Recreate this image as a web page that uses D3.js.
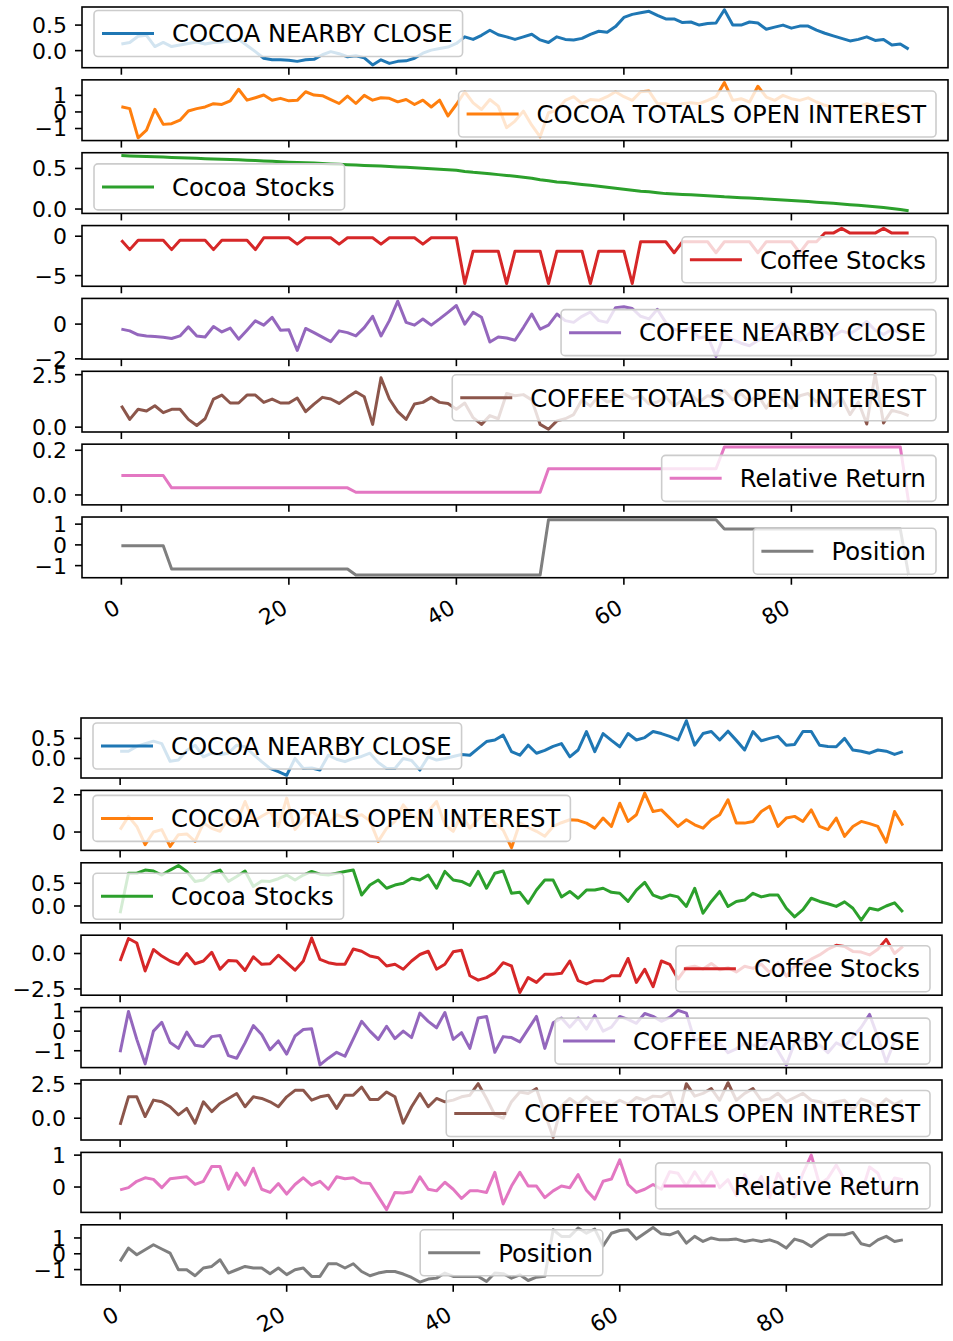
<!DOCTYPE html>
<html>
<head>
<meta charset="utf-8">
<script src="https://cdn.jsdelivr.net/npm/d3@7"></script>
<style>
  body { margin: 0; background: #fff; }
  svg { display: block; }
  text { font-family: "DejaVu Sans", sans-serif; fill: #000; }
</style>
</head>
<body>
<svg id="chart" width="953" height="1341"></svg>
<script>
// ---- series names, colours and tick labels ----
const seriesNames = ["COCOA NEARBY CLOSE", "COCOA TOTALS OPEN INTEREST", "Cocoa Stocks", "Coffee Stocks",
  "COFFEE NEARBY CLOSE", "COFFEE TOTALS OPEN INTEREST", "Relative Return", "Position"];
const seriesColors = ["#1f77b4", "#ff7f0e", "#2ca02c", "#d62728", "#9467bd", "#8c564b", "#e377c2", "#7f7f7f"];
const xTickValues = [0, 20, 40, 60, 80];
const xTickLabels = ["0", "20", "40", "60", "80"];

// ---- upper figure ----
const topCocoaClose = [0.13,0.16,0.28,0.30,0.08,0.16,0.08,0.11,0.14,0.17,
  0.13,0.16,0.17,0.19,0.22,0.10,-0.02,-0.15,-0.18,-0.18,
  -0.19,-0.21,-0.18,-0.17,-0.08,-0.02,-0.06,-0.12,-0.10,-0.14,
  -0.28,-0.18,-0.25,-0.21,-0.20,-0.15,-0.05,0.01,0.04,0.07,
  0.14,0.27,0.22,0.30,0.40,0.31,0.27,0.22,0.27,0.32,
  0.21,0.16,0.27,0.22,0.21,0.24,0.32,0.38,0.36,0.47,
  0.65,0.71,0.74,0.77,0.69,0.62,0.62,0.55,0.56,0.50,
  0.53,0.54,0.80,0.50,0.50,0.56,0.54,0.42,0.46,0.50,
  0.44,0.48,0.48,0.40,0.34,0.29,0.24,0.19,0.22,0.27,
  0.20,0.22,0.11,0.13,0.03];
const topCocoaOpenInterest = [0.31,0.20,-1.56,-1.10,0.16,-0.75,-0.71,-0.50,0.06,0.20,
  0.30,0.50,0.45,0.67,1.37,0.71,0.86,1.02,0.71,0.82,
  0.67,0.70,1.22,1.02,0.98,0.75,0.51,0.96,0.51,1.00,
  0.71,0.86,0.82,0.61,0.75,0.45,0.71,0.30,0.71,-0.24,
  0.45,1.22,0.55,0.15,0.75,0.35,-0.95,-0.55,0.05,-0.80,
  -1.50,-0.05,0.10,0.70,0.92,0.50,0.75,0.70,0.92,1.22,
  0.92,0.70,1.22,1.26,0.50,0.50,0.30,0.50,0.55,0.50,
  0.70,0.92,1.77,0.70,0.80,0.60,1.55,0.90,0.70,1.00,
  0.80,0.70,0.85,0.60,0.40,0.30,0.30,0.35,0.30,0.50,
  0.30,0.50,0.20,0.40,0.30];
const topCocoaStocks = [0.660,0.655,0.652,0.648,0.645,0.641,0.636,0.633,0.630,0.626,
  0.621,0.617,0.614,0.611,0.606,0.601,0.597,0.593,0.589,0.582,
  0.577,0.574,0.570,0.566,0.561,0.556,0.552,0.547,0.543,0.538,
  0.533,0.529,0.524,0.519,0.514,0.509,0.504,0.497,0.491,0.484,
  0.478,0.462,0.452,0.445,0.436,0.424,0.414,0.403,0.392,0.380,
  0.362,0.348,0.334,0.326,0.316,0.303,0.292,0.282,0.268,0.256,
  0.243,0.232,0.220,0.212,0.200,0.190,0.185,0.180,0.175,0.169,
  0.164,0.158,0.150,0.145,0.140,0.135,0.130,0.124,0.118,0.112,
  0.105,0.099,0.092,0.085,0.078,0.070,0.062,0.054,0.046,0.038,
  0.028,0.018,0.008,-0.005,-0.020];
const topCoffeeStocks = [-0.5,-1.7,-0.5,-0.5,-0.5,-0.5,-1.7,-0.5,-0.5,-0.5,
  -0.5,-1.7,-0.5,-0.5,-0.5,-0.5,-1.7,-0.2,-0.2,-0.2,
  -0.2,-1.0,-0.2,-0.2,-0.2,-0.2,-1.0,-0.2,-0.2,-0.2,
  -0.2,-1.0,-0.2,-0.2,-0.2,-0.2,-1.0,-0.2,-0.2,-0.2,
  -0.2,-6.0,-1.9,-1.9,-1.9,-1.9,-6.0,-1.9,-1.9,-1.9,
  -1.9,-6.0,-1.9,-1.9,-1.9,-1.9,-6.0,-1.9,-1.9,-1.9,
  -1.9,-6.0,-0.7,-0.7,-0.7,-0.7,-2.1,-0.7,-0.7,-0.7,
  -0.7,-2.1,-0.7,-0.7,-0.7,-0.7,-2.1,-0.7,-0.7,-0.7,
  -0.7,-2.1,-0.7,-0.7,0.4,0.4,1.0,0.4,0.4,0.4,
  0.4,1.0,0.4,0.4,0.4];
const topCoffeeClose = [-0.29,-0.39,-0.62,-0.68,-0.72,-0.76,-0.83,-0.68,-0.16,-0.68,
  -0.74,-0.14,-0.45,-0.23,-0.87,-0.35,0.19,-0.06,0.39,-0.35,
  -0.33,-1.52,-0.25,-0.49,-0.75,-1.01,-0.39,-0.49,-0.68,-0.20,
  0.45,-0.68,0.20,1.32,0.10,-0.06,0.29,-0.06,0.30,0.68,
  1.07,0.00,0.68,0.39,-1.03,-0.74,-0.80,-0.93,-0.20,0.58,
  -0.29,-0.06,0.58,0.20,0.10,0.45,0.70,0.20,0.10,0.95,
  1.00,0.90,0.45,0.30,0.85,0.10,-0.30,-0.40,-0.20,-0.80,
  -0.70,-1.86,-0.60,-0.90,-1.10,-1.25,-0.95,-0.70,-0.30,0.10,
  -0.50,-0.95,-0.60,-0.20,-0.45,-0.70,-0.40,-0.55,-0.25,0.15,
  -0.35,-0.60,-0.30,-0.50,-0.45];
const topCoffeeOpenInterest = [1.02,0.37,0.85,0.77,1.02,0.69,0.85,0.85,0.37,0.08,
  0.40,1.34,1.53,1.15,1.15,1.53,1.53,1.18,1.34,1.15,
  1.15,1.39,0.74,1.10,1.42,1.34,1.13,1.42,1.69,1.45,
  0.13,2.35,1.34,0.74,0.37,1.10,1.18,1.42,1.18,1.13,
  0.85,1.15,0.45,0.13,0.55,0.40,1.60,1.50,1.55,1.30,
  0.13,-0.10,0.30,0.40,0.60,1.30,1.00,1.50,1.20,1.30,
  1.60,1.35,1.50,1.10,1.20,1.45,1.00,1.30,1.55,1.20,
  1.50,1.40,1.75,1.30,1.60,1.20,1.55,0.90,1.60,1.30,
  0.90,1.50,1.60,1.20,1.55,1.00,1.40,0.60,1.20,0.15,
  2.53,0.20,0.80,0.70,0.55];
const topRelativeReturn = [0.087,0.087,0.087,0.087,0.087,0.087,0.032,0.032,0.032,0.032,
  0.032,0.032,0.032,0.032,0.032,0.032,0.032,0.032,0.032,0.032,
  0.032,0.032,0.032,0.032,0.032,0.032,0.032,0.032,0.012,0.012,
  0.012,0.012,0.012,0.012,0.012,0.012,0.012,0.012,0.012,0.012,
  0.012,0.012,0.012,0.012,0.012,0.012,0.012,0.012,0.012,0.012,
  0.012,0.117,0.117,0.117,0.117,0.117,0.117,0.117,0.117,0.117,
  0.117,0.117,0.117,0.117,0.117,0.117,0.117,0.117,0.117,0.117,
  0.117,0.117,0.215,0.215,0.215,0.215,0.215,0.215,0.215,0.215,
  0.215,0.215,0.215,0.215,0.215,0.215,0.215,0.215,0.215,0.215,
  0.215,0.215,0.215,0.215,-0.032];
const topPosition = [-0.04,-0.04,-0.04,-0.04,-0.04,-0.04,-1.16,-1.16,-1.16,-1.16,
  -1.16,-1.16,-1.16,-1.16,-1.16,-1.16,-1.16,-1.16,-1.16,-1.16,
  -1.16,-1.16,-1.16,-1.16,-1.16,-1.16,-1.16,-1.16,-1.45,-1.45,
  -1.45,-1.45,-1.45,-1.45,-1.45,-1.45,-1.45,-1.45,-1.45,-1.45,
  -1.45,-1.45,-1.45,-1.45,-1.45,-1.45,-1.45,-1.45,-1.45,-1.45,
  -1.45,1.21,1.21,1.21,1.21,1.21,1.21,1.21,1.21,1.21,
  1.21,1.21,1.21,1.21,1.21,1.21,1.21,1.21,1.21,1.21,
  1.21,1.21,0.77,0.77,0.77,0.77,0.77,0.77,0.77,0.77,
  0.77,0.77,0.77,0.77,0.77,0.77,0.77,0.77,0.77,0.77,
  0.77,0.77,0.77,0.77,-1.45];

// ---- lower figure ----
const bottomCocoaClose = [0.18,0.18,0.30,0.37,0.43,0.37,-0.07,-0.04,0.20,0.33,
  0.04,0.13,0.10,0.13,0.33,0.29,0.10,-0.08,-0.25,-0.33,
  -0.42,0.00,-0.25,-0.24,-0.29,0.08,-0.02,-0.08,0.00,0.05,
  0.13,-0.10,-0.25,-0.25,0.00,-0.05,-0.29,0.04,-0.04,0.00,
  0.05,0.10,0.08,0.25,0.42,0.46,0.58,0.17,0.08,0.33,
  0.13,0.20,0.30,0.37,0.04,0.21,0.67,0.17,0.62,0.45,
  0.29,0.62,0.46,0.52,0.67,0.62,0.55,0.46,0.94,0.33,
  0.62,0.67,0.46,0.68,0.45,0.21,0.67,0.44,0.50,0.55,
  0.33,0.35,0.67,0.67,0.33,0.30,0.29,0.50,0.21,0.18,
  0.13,0.21,0.18,0.10,0.17];
const bottomCocoaOpenInterest = [0.13,0.84,0.30,-0.68,0.00,0.13,-0.77,-0.14,-0.10,-0.50,
  0.48,0.20,0.04,0.75,0.50,1.64,0.57,0.85,1.10,0.30,
  1.82,0.13,0.66,1.10,0.80,0.39,0.93,0.75,0.80,0.93,
  0.60,-0.50,0.20,0.57,1.46,0.90,0.66,1.10,1.64,0.39,
  0.04,0.93,0.21,0.70,1.10,0.48,0.10,-0.84,0.48,0.25,
  0.04,-0.23,0.30,0.50,0.66,0.63,0.48,0.21,0.75,0.30,
  1.55,0.57,0.93,2.09,1.10,1.19,0.75,0.30,0.66,0.39,
  0.21,0.66,0.93,1.73,0.48,0.48,0.57,1.10,1.38,0.30,
  0.75,0.84,0.57,1.19,0.30,0.13,0.75,-0.23,0.30,0.57,
  0.45,0.30,-0.55,1.10,0.35];
const bottomCocoaStocks = [-0.16,0.72,0.72,0.79,0.77,0.68,0.79,0.89,0.76,0.54,
  0.57,0.72,0.79,0.54,0.65,0.77,0.43,0.55,0.54,0.60,
  0.68,0.57,0.68,0.76,0.70,0.68,0.72,0.76,0.79,0.24,
  0.46,0.57,0.39,0.46,0.50,0.61,0.57,0.68,0.39,0.76,
  0.57,0.54,0.45,0.76,0.39,0.72,0.77,0.28,0.30,0.06,
  0.35,0.57,0.57,0.20,0.32,0.17,0.35,0.35,0.39,0.30,
  0.28,0.10,0.35,0.52,0.24,0.17,0.24,0.20,-0.01,0.39,
  -0.16,0.10,0.32,-0.01,0.10,0.13,0.28,0.20,0.24,0.24,
  -0.05,-0.24,-0.08,0.17,0.10,0.05,-0.01,0.09,-0.05,-0.31,
  -0.05,-0.09,0.00,0.07,-0.13];
const bottomCoffeeStocks = [-0.53,1.06,0.74,-1.23,0.28,-0.18,-0.53,-0.76,0.00,-0.72,
  -0.53,0.09,-1.11,-0.49,-0.53,-1.20,-0.23,-0.76,-0.72,-0.12,
  -0.65,-1.18,-0.53,1.10,-0.42,-0.65,-0.76,-0.76,0.32,0.16,
  -0.18,-0.30,-0.88,-0.76,-1.11,-0.53,-0.07,0.16,-1.11,-0.76,
  0.12,0.23,-1.57,-1.88,-1.70,-1.35,-0.65,-0.88,-2.75,-1.70,
  -2.04,-1.46,-1.46,-1.40,-0.53,-1.92,-2.15,-1.92,-1.92,-1.57,
  -1.57,-0.35,-2.04,-1.11,-2.34,-0.53,-0.76,-1.80,-1.00,-0.90,
  -1.10,-0.70,-1.15,-1.00,-1.30,-0.90,-1.05,-0.75,-1.35,-0.65,
  -1.60,-0.90,-0.75,-0.40,-0.10,0.30,0.58,0.50,0.15,0.10,
  -0.10,0.30,1.00,0.00,0.50];
const bottomCoffeeClose = [-1.08,1.00,-0.42,-1.67,0.00,0.45,-0.58,-0.88,-0.05,-0.72,
  -0.78,-0.28,-0.22,-1.25,-1.38,-0.60,0.28,-0.17,-0.95,-0.50,
  -1.17,-0.25,0.08,0.12,-1.72,-1.38,-1.08,-1.28,-0.40,0.50,
  0.00,-0.42,0.25,-0.38,0.00,-0.33,0.92,0.50,0.17,0.95,
  -0.42,-0.08,-0.88,0.67,0.75,-1.08,-0.28,-0.33,-0.55,0.10,
  0.75,-0.88,0.42,0.67,0.20,0.67,0.10,0.80,0.00,0.20,
  0.75,0.60,0.40,0.90,0.75,0.50,0.70,1.06,0.92,-0.50,
  -0.30,-0.80,-0.60,-1.10,-0.90,-0.60,-0.70,-0.90,-0.40,-1.00,
  -1.72,-0.60,-0.40,-0.90,-0.70,-1.10,-0.60,-0.80,-0.30,0.20,
  0.85,-0.30,-1.58,-0.50,-0.10];
const bottomCoffeeOpenInterest = [-0.48,1.55,1.55,0.12,1.31,1.19,0.83,0.24,0.71,-0.36,
  1.19,0.48,1.07,1.43,1.79,0.83,1.55,1.43,1.19,0.83,
  1.55,2.02,2.02,1.31,1.55,1.67,0.71,1.67,1.67,2.26,
  1.36,1.36,1.90,1.55,-0.36,0.83,1.79,0.83,1.43,1.19,
  1.31,1.55,1.67,2.50,1.43,0.24,0.00,1.20,1.90,1.79,
  2.14,0.36,-1.38,0.90,1.43,1.00,1.55,1.10,1.20,0.90,
  1.30,1.00,1.50,1.30,1.60,1.55,1.90,0.10,2.50,1.60,
  1.80,2.14,1.30,2.57,1.30,1.80,2.14,1.30,1.40,1.80,
  1.20,1.50,1.80,1.30,1.20,0.90,1.20,1.30,0.60,1.40,
  1.20,0.80,1.40,1.00,1.30];
const bottomRelativeReturn = [-0.09,-0.02,0.18,0.29,0.24,-0.02,0.26,0.29,0.32,0.08,
  0.18,0.64,0.64,-0.07,0.44,0.06,0.59,-0.07,-0.17,0.11,
  -0.22,0.08,0.29,0.06,0.18,-0.07,0.32,0.26,0.29,0.13,
  0.11,-0.30,-0.71,-0.17,-0.19,-0.15,0.32,-0.07,-0.12,0.15,
  -0.07,-0.36,-0.12,-0.12,-0.17,0.46,-0.53,0.03,0.46,0.03,
  0.03,-0.33,-0.12,0.03,-0.02,0.39,-0.10,-0.38,0.18,0.25,
  0.85,0.08,-0.17,-0.07,0.08,-0.07,0.48,0.43,0.03,0.48,
  0.08,0.48,-0.02,0.23,-0.27,0.38,-0.12,0.33,-0.33,0.43,
  -0.02,-0.32,0.43,1.00,0.08,0.28,0.69,0.23,-0.07,-0.22,
  0.63,0.43,-0.17,0.28,0.23];
const bottomPosition = [-0.48,0.36,-0.06,0.25,0.57,0.30,0.04,-1.01,-1.01,-1.39,
  -0.90,-0.80,-0.38,-1.22,-1.01,-0.80,-0.90,-0.90,-1.26,-0.90,
  -1.32,-1.01,-0.90,-1.43,-1.43,-0.63,-0.63,-0.90,-0.63,-1.12,
  -1.39,-1.22,-1.12,-1.12,-1.28,-1.50,-1.79,-1.60,-1.54,-1.22,
  -1.43,-1.43,-1.43,-1.43,-1.75,-1.22,-1.26,-1.54,-1.33,-1.69,
  -1.48,-1.43,1.52,1.10,1.10,1.63,1.30,1.56,0.50,1.30,
  1.47,1.52,0.93,1.30,1.66,1.26,1.20,1.40,0.67,1.10,
  0.78,1.00,0.88,0.88,0.93,0.78,0.88,0.78,0.88,0.70,
  0.36,0.93,0.78,0.46,0.88,1.20,1.20,1.20,1.35,0.63,
  0.50,0.88,1.10,0.78,0.88];

// ---- y tick values / labels per panel ----
const topYTicks = [[0, 0.5], [-1, 0, 1], [0, 0.5], [-5, 0], [-2, 0], [0, 2.5], [0, 0.2], [-1, 0, 1]];
const topYTickLabels = [["0.0", "0.5"], ["\u22121", "0", "1"], ["0.0", "0.5"], ["\u22125", "0"],
  ["\u22122", "0"], ["0.0", "2.5"], ["0.0", "0.2"], ["\u22121", "0", "1"]];
const bottomYTicks = [[0, 0.5], [0, 2], [0, 0.5], [-2.5, 0], [-1, 0, 1], [0, 2.5], [0, 1], [-1, 0, 1]];
const bottomYTickLabels = [["0.0", "0.5"], ["0", "2"], ["0.0", "0.5"], ["\u22122.5", "0.0"],
  ["\u22121", "0", "1"], ["0.0", "2.5"], ["0", "1"], ["\u22121", "0", "1"]];

// ---- layout of the two stacked figures ----
const figures = [
  {
    left: 82, right: 948, top: 7, pitch: 72.86, height: 60.7, upperPad: 3.5, lowerPad: 3.5,
    series: [topCocoaClose, topCocoaOpenInterest, topCocoaStocks, topCoffeeStocks,
      topCoffeeClose, topCoffeeOpenInterest, topRelativeReturn, topPosition],
    yTicks: topYTicks, yLabels: topYTickLabels,
    legendLoc: ["upper left", "lower right", "lower left", "lower right",
      "lower right", "upper right", "lower right", "lower right"]
  },
  {
    left: 81, right: 942, top: 718, pitch: 72.4, height: 60, upperPad: 5, lowerPad: 3.5,
    series: [bottomCocoaClose, bottomCocoaOpenInterest, bottomCocoaStocks, bottomCoffeeStocks,
      bottomCoffeeClose, bottomCoffeeOpenInterest, bottomRelativeReturn, bottomPosition],
    yTicks: bottomYTicks, yLabels: bottomYTickLabels,
    legendLoc: ["upper left", "upper left", "lower left", "lower right",
      "lower right", "lower right", "lower right", "upper center"]
  }
];

const TICK_FONT = 22, LEGEND_FONT = 24.3, TICK_LEN = 7;
const svg = d3.select("#chart");
const defs = svg.append("defs");
let clipId = 0;

figures.forEach(fig => {
  const x = d3.scaleLinear().domain([-4.7, 98.7]).range([fig.left, fig.right]);

  fig.series.forEach((vals, k) => {
    const y0 = fig.top + k * fig.pitch;
    const y1 = y0 + fig.height;
    const lo = d3.min(vals), hi = d3.max(vals), m = (hi - lo) * 0.05;
    const y = d3.scaleLinear().domain([lo - m, hi + m]).range([y1, y0]);
    const g = svg.append("g");

    const cid = "clip" + (clipId++);
    defs.append("clipPath").attr("id", cid).append("rect")
      .attr("x", fig.left).attr("y", y0).attr("width", fig.right - fig.left).attr("height", fig.height);

    // series line
    g.append("path")
      .datum(vals)
      .attr("clip-path", `url(#${cid})`)
      .attr("fill", "none")
      .attr("stroke", seriesColors[k])
      .attr("stroke-width", 3)
      .attr("stroke-linejoin", "round")
      .attr("d", d3.line().x((d, i) => x(i)).y(d => y(d)));

    // x ticks on every panel
    g.selectAll(".xt").data(xTickValues).enter().append("line")
      .attr("x1", d => x(d)).attr("x2", d => x(d))
      .attr("y1", y1).attr("y2", y1 + TICK_LEN)
      .attr("stroke", "#000").attr("stroke-width", 1.6);

    // y ticks and labels
    const yt = fig.yTicks[k];
    g.selectAll(".yt").data(yt).enter().append("line")
      .attr("x1", fig.left - TICK_LEN).attr("x2", fig.left)
      .attr("y1", d => y(d)).attr("y2", d => y(d))
      .attr("stroke", "#000").attr("stroke-width", 1.6);
    g.selectAll(".yl").data(yt).enter().append("text")
      .attr("x", fig.left - TICK_LEN - 8)
      .attr("y", d => y(d))
      .attr("dy", "0.36em")
      .attr("text-anchor", "end")
      .attr("font-size", TICK_FONT)
      .text((d, i) => fig.yLabels[k][i]);

    // axes frame
    g.append("rect")
      .attr("x", fig.left).attr("y", y0)
      .attr("width", fig.right - fig.left).attr("height", fig.height)
      .attr("fill", "none").attr("stroke", "#000").attr("stroke-width", 1.6);

    // legend
    const lg = g.append("g");
    const box = lg.append("rect");
    const label = lg.append("text").attr("font-size", LEGEND_FONT).text(seriesNames[k]);
    const tw = label.node().getComputedTextLength();
    const bw = tw + 88, bh = 46;
    const loc = fig.legendLoc[k];
    const hpad = 12;
    let bx;
    if (loc.endsWith("left")) bx = fig.left + hpad;
    else if (loc.endsWith("right")) bx = fig.right - hpad - bw;
    else bx = (fig.left + fig.right) / 2 - bw / 2;
    const by = loc.startsWith("upper") ? y0 + fig.upperPad : y1 - fig.lowerPad - bh;
    box.attr("x", bx).attr("y", by).attr("width", bw).attr("height", bh)
      .attr("rx", 4).attr("ry", 4)
      .attr("fill", "#fff").attr("fill-opacity", 0.8)
      .attr("stroke", "#cccccc").attr("stroke-width", 1.6);
    lg.append("line")
      .attr("x1", bx + 8).attr("x2", bx + 60)
      .attr("y1", by + bh / 2).attr("y2", by + bh / 2)
      .attr("stroke", seriesColors[k]).attr("stroke-width", 3);
    label.attr("x", bx + 78).attr("y", by + bh / 2).attr("dy", "0.36em");

    // rotated x tick labels under the bottom panel
    if (k === fig.series.length - 1) {
      g.selectAll(".xl").data(xTickValues).enter().append("text")
        .attr("font-size", TICK_FONT)
        .attr("text-anchor", "end")
        .attr("transform", d => `translate(${x(d) - 8},${y1 + TICK_LEN + 13}) rotate(-30)`)
        .attr("dy", "0.75em")
        .text((d, i) => xTickLabels[i]);
    }
  });
});
</script>
</body>
</html>
